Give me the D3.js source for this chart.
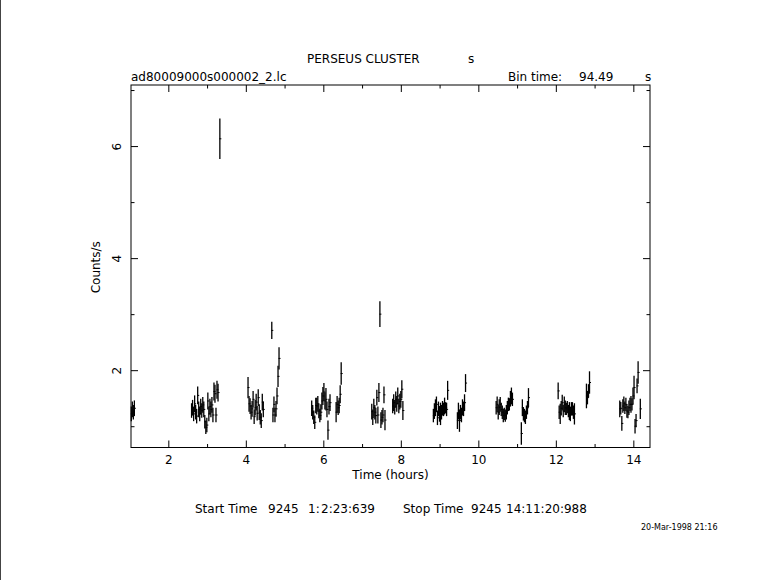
<!DOCTYPE html>
<html>
<head>
<meta charset="utf-8">
<script src="https://cdn.jsdelivr.net/npm/d3@7"></script>
<style>
  html, body { margin: 0; padding: 0; background: #fff; }
  svg { display: block; }
  text { font-family: "DejaVu Sans", "Liberation Sans", sans-serif; fill: #000; }
</style>
</head>
<body>
<svg id="chart" width="781" height="580"></svg>
<script>
// ---- data ----
const binSeconds = 94.49;
const titleText = "PERSEUS CLUSTER";
const fileName = "ad80009000s000002_2.lc";
const xMajorTicks = [2, 4, 6, 8, 10, 12, 14];
const xMinorTicks = [3, 5, 7, 9, 11, 13];
const yMajorTicks = [2, 4, 6];
const yMinorTicks = [1, 3, 5, 7];

const timeHours = [
  1.045, 1.071, 1.097, 1.124,
  2.600, 2.626, 2.653, 2.679, 2.705, 2.731, 2.758, 2.784, 2.810, 2.836, 2.863, 2.889, 2.915, 2.941,
  2.968, 2.994, 3.020, 3.046, 3.073, 3.099, 3.125, 3.151, 3.178, 3.204, 3.230, 3.256, 3.283,
  3.330,
  4.057, 4.083, 4.110, 4.136, 4.162, 4.188, 4.215, 4.241, 4.267, 4.293, 4.320, 4.346, 4.372, 4.398, 4.425, 4.451,
  4.670,
  4.700, 4.726, 4.752, 4.779, 4.805, 4.831, 4.857,
  5.700, 5.726, 5.753, 5.779, 5.805, 5.831, 5.858, 5.884, 5.910, 5.936, 5.963, 5.989, 6.015, 6.041, 6.068,
  6.094, 6.120, 6.146, 6.173,
  6.330, 6.356, 6.383, 6.409, 6.435, 6.461,
  7.250, 7.276, 7.303, 7.329, 7.355, 7.381, 7.408, 7.434, 7.460, 7.486, 7.513, 7.539, 7.565, 7.591,
  7.790, 7.816, 7.843, 7.869, 7.895, 7.921, 7.948, 7.974, 8.000, 8.026, 8.053,
  8.840, 8.866, 8.893, 8.919, 8.945, 8.971, 8.998, 9.024, 9.050, 9.076, 9.103, 9.129, 9.155, 9.181, 9.208,
  9.460, 9.486, 9.513, 9.539, 9.565, 9.591, 9.618, 9.644, 9.670,
  10.460, 10.486, 10.513, 10.539, 10.565, 10.591, 10.618, 10.644, 10.670, 10.696, 10.723, 10.749, 10.775,
  10.801, 10.828, 10.854, 10.880,
  11.110, 11.136, 11.163, 11.189, 11.215, 11.241, 11.268, 11.294,
  12.060, 12.086, 12.113, 12.139, 12.165, 12.191, 12.218, 12.244, 12.270, 12.296, 12.323, 12.349, 12.375,
  12.401, 12.428, 12.454, 12.480,
  12.790, 12.816, 12.843, 12.869,
  13.650, 13.676, 13.703, 13.729, 13.755, 13.781, 13.808, 13.834, 13.860, 13.886, 13.913, 13.939, 13.965,
  13.991, 14.018, 14.044, 14.070, 14.096, 14.123, 14.180
];

const counts = [
  1.22, 1.30, 1.25, 1.32,
  1.28, 1.33, 1.22, 1.40, 1.25, 1.18, 1.55, 1.30, 1.22, 1.35, 1.28, 1.38, 1.30, 1.08,
  0.98, 1.02, 1.45, 1.22, 1.35, 1.30, 1.38, 1.20, 1.62, 1.58, 1.20, 1.65, 1.60,
  6.13,
  1.69, 1.40, 1.36, 1.25, 1.31, 1.48, 1.17, 1.33, 1.43, 1.23, 1.51, 1.25, 1.16, 1.10, 1.43, 1.30,
  2.71,
  1.20, 1.39, 1.20, 1.31, 1.54, 1.89, 2.21,
  1.32, 1.25, 1.16, 1.07, 1.37, 1.36, 1.40, 1.27, 1.19, 1.25, 1.45, 1.54, 1.61, 1.45, 1.48,
  1.30, 0.93, 1.35, 1.42,
  1.25, 1.39, 1.33, 1.37, 1.57, 1.94,
  1.26, 1.16, 1.33, 1.25, 1.19, 1.51, 1.20, 1.60, 3.00, 1.11, 1.16, 1.20, 1.56, 1.11,
  1.36, 1.42, 1.34, 1.48, 1.40, 1.54, 1.36, 1.44, 1.48, 1.66, 1.28,
  1.19, 1.27, 1.33, 1.39, 1.15, 1.31, 1.22, 1.22, 1.25, 1.32, 1.30, 1.36, 1.33, 1.30, 1.64,
  1.10, 1.27, 1.10, 1.25, 1.20, 1.34, 1.31, 1.42, 1.77,
  1.33, 1.39, 1.25, 1.34, 1.39, 1.30, 1.25, 1.19, 1.22, 1.19, 1.25, 1.33, 1.39,
  1.39, 1.49, 1.54, 1.48,
  0.87, 1.33, 1.22, 1.19, 1.16, 1.25, 1.33, 1.51,
  1.63, 1.25, 1.22, 1.32, 1.42, 1.27, 1.39, 1.33, 1.31, 1.34, 1.27, 1.27, 1.22,
  1.31, 1.31, 1.25, 1.22,
  1.54, 1.51, 1.63, 1.78,
  1.31, 1.32, 1.05, 1.36, 1.40, 1.33, 1.39, 1.27, 1.25, 1.33, 1.39, 1.39, 1.39,
  1.54, 1.69, 1.00, 1.10, 1.72, 1.96, 1.31
];

const countErrors = [
  0.13, 0.14, 0.13, 0.14,
  0.13, 0.14, 0.13, 0.15, 0.13, 0.13, 0.16, 0.14, 0.13, 0.14, 0.13, 0.14, 0.14, 0.12,
  0.12, 0.13, 0.15, 0.13, 0.14, 0.14, 0.14, 0.13, 0.16, 0.16, 0.13, 0.16, 0.16,
  0.36,
  0.19, 0.14, 0.14, 0.13, 0.14, 0.15, 0.13, 0.14, 0.15, 0.13, 0.15, 0.14, 0.13, 0.13, 0.15, 0.14,
  0.155,
  0.13, 0.14, 0.13, 0.14, 0.15, 0.19, 0.20,
  0.14, 0.13, 0.12, 0.12, 0.14, 0.15, 0.14, 0.13, 0.12, 0.14, 0.15, 0.16, 0.16, 0.15, 0.20,
  0.14, 0.17, 0.14, 0.15,
  0.18, 0.15, 0.13, 0.14, 0.16, 0.20,
  0.14, 0.14, 0.16, 0.13, 0.14, 0.14, 0.15, 0.17, 0.23, 0.14, 0.13, 0.13, 0.15, 0.18,
  0.13, 0.15, 0.13, 0.14, 0.14, 0.15, 0.13, 0.14, 0.15, 0.16, 0.17,
  0.12, 0.14, 0.15, 0.14, 0.13, 0.13, 0.14, 0.20, 0.13, 0.13, 0.12, 0.15, 0.10, 0.12, 0.17,
  0.15, 0.15, 0.20, 0.13, 0.13, 0.14, 0.13, 0.15, 0.16,
  0.12, 0.14, 0.13, 0.14, 0.13, 0.12, 0.12, 0.12, 0.11, 0.11, 0.13, 0.12, 0.12,
  0.11, 0.14, 0.15, 0.12,
  0.20, 0.15, 0.12, 0.12, 0.12, 0.12, 0.12, 0.17,
  0.15, 0.12, 0.18, 0.13, 0.14, 0.11, 0.14, 0.13, 0.11, 0.11, 0.11, 0.16, 0.13,
  0.12, 0.12, 0.12, 0.19,
  0.22, 0.12, 0.12, 0.20,
  0.15, 0.11, 0.13, 0.12, 0.13, 0.11, 0.12, 0.12, 0.11, 0.13, 0.12, 0.15, 0.11,
  0.15, 0.21, 0.13, 0.12, 0.13, 0.20, 0.18
];

// ---- layout ----
const svg = d3.select("#chart");
const W = 781, H = 580;
const plotLeft = 131, plotRight = 650, plotTop = 85, plotBottom = 447.5;

svg.append("rect").attr("width", W).attr("height", H).attr("fill", "#fff");
svg.append("line").attr("x1", 0.5).attr("x2", 0.5).attr("y1", 0).attr("y2", H)
  .attr("stroke", "#444").attr("stroke-width", 1);

const x = d3.scaleLinear().domain([1.037, 14.43]).range([plotLeft, plotRight]);
const y = d3.scaleLinear().domain([0.62, 7.09]).range([plotBottom, plotTop]);

const points = timeHours.map((t, i) => ({ t, c: counts[i], e: countErrors[i] }));
const halfBin = binSeconds / 3600 / 2;

// frame
svg.append("rect").attr("x", plotLeft).attr("y", plotTop)
  .attr("width", plotRight - plotLeft).attr("height", plotBottom - plotTop)
  .attr("fill", "none").attr("stroke", "#000").attr("stroke-width", 1);

function styleAxis(g) {
  g.select(".domain").remove();
  g.selectAll(".tick line").attr("stroke", "#000").attr("stroke-width", 1);
  g.attr("font-family", null).attr("font-size", null);
}

// bottom axis (major with labels, minor)
const gxb = svg.append("g").attr("transform", `translate(0,${plotBottom})`)
  .call(d3.axisBottom(x).tickValues(xMajorTicks).tickSize(-7).tickSizeOuter(0).tickPadding(8).tickFormat(d3.format("d")));
styleAxis(gxb);
gxb.selectAll("text").style("font-size", "12px");
svg.append("g").attr("transform", `translate(0,${plotBottom})`)
  .call(d3.axisBottom(x).tickValues(xMinorTicks).tickSize(-3.5).tickSizeOuter(0).tickFormat(""))
  .call(styleAxis);

// top axis
svg.append("g").attr("transform", `translate(0,${plotTop})`)
  .call(d3.axisTop(x).tickValues(xMajorTicks).tickSize(-7).tickSizeOuter(0).tickFormat(""))
  .call(styleAxis);
svg.append("g").attr("transform", `translate(0,${plotTop})`)
  .call(d3.axisTop(x).tickValues(xMinorTicks).tickSize(-3.5).tickSizeOuter(0).tickFormat(""))
  .call(styleAxis);

// left axis
const gyl = svg.append("g").attr("transform", `translate(${plotLeft},0)`)
  .call(d3.axisLeft(y).tickValues(yMajorTicks).tickSize(-7).tickSizeOuter(0).tickFormat(d3.format("d")));
styleAxis(gyl);
gyl.selectAll("text")
  .attr("x", 0).attr("y", -10).attr("dy", null)
  .attr("text-anchor", "middle").attr("transform", "rotate(-90)")
  .style("font-size", "12px");
svg.append("g").attr("transform", `translate(${plotLeft},0)`)
  .call(d3.axisLeft(y).tickValues(yMinorTicks).tickSize(-3.5).tickSizeOuter(0).tickFormat(""))
  .call(styleAxis);

// right axis
svg.append("g").attr("transform", `translate(${plotRight},0)`)
  .call(d3.axisRight(y).tickValues(yMajorTicks).tickSize(-7).tickSizeOuter(0).tickFormat(""))
  .call(styleAxis);
svg.append("g").attr("transform", `translate(${plotRight},0)`)
  .call(d3.axisRight(y).tickValues(yMinorTicks).tickSize(-3.5).tickSizeOuter(0).tickFormat(""))
  .call(styleAxis);

// data: error bars
const gd = svg.append("g").attr("class", "data");
gd.selectAll("line.err").data(points).join("line")
  .attr("class", "err")
  .attr("x1", d => x(d.t)).attr("x2", d => x(d.t))
  .attr("y1", d => y(d.c - d.e)).attr("y2", d => y(d.c + d.e))
  .attr("stroke", "#000").attr("stroke-width", 1.3);
gd.selectAll("line.bin").data(points).join("line")
  .attr("class", "bin")
  .attr("x1", d => x(d.t - halfBin)).attr("x2", d => x(d.t + halfBin) + 1)
  .attr("y1", d => y(d.c)).attr("y2", d => y(d.c))
  .attr("stroke", "#000").attr("stroke-width", 1);

// texts
const fs = "12px";
svg.append("text").attr("x", 307).attr("y", 63).style("font-size", fs).text(titleText);
svg.append("text").attr("x", 468).attr("y", 63).style("font-size", fs).text("s");
svg.append("text").attr("x", 131).attr("y", 81).style("font-size", fs).text(fileName);
svg.append("text").attr("x", 508).attr("y", 81).style("font-size", fs).text("Bin time:");
svg.append("text").attr("x", 579).attr("y", 81).style("font-size", fs).text(binSeconds.toFixed(2));
svg.append("text").attr("x", 645).attr("y", 81).style("font-size", fs).text("s");

svg.append("text").attr("x", (plotLeft + plotRight) / 2).attr("y", 479)
  .attr("text-anchor", "middle").style("font-size", fs).text("Time (hours)");
svg.append("text").attr("transform", `translate(99.5,${(plotTop + plotBottom) / 2 + 1}) rotate(-90)`)
  .attr("text-anchor", "middle").style("font-size", fs).text("Counts/s");

const footer = [
  { s: "Start Time", x: 195 },
  { s: "9245", x: 268 },
  { s: "1:", x: 308 },
  { s: "2:23:639", x: 321 },
  { s: "Stop Time", x: 403 },
  { s: "9245", x: 471 },
  { s: "14:11:20:988", x: 506 }
];
svg.selectAll("text.foot").data(footer).join("text")
  .attr("class", "foot").attr("x", d => d.x).attr("y", 512.5)
  .style("font-size", fs).text(d => d.s);

svg.append("text").attr("x", 641).attr("y", 530).style("font-size", "8px").text("20-Mar-1998 21:16");
</script>
</body>
</html>
